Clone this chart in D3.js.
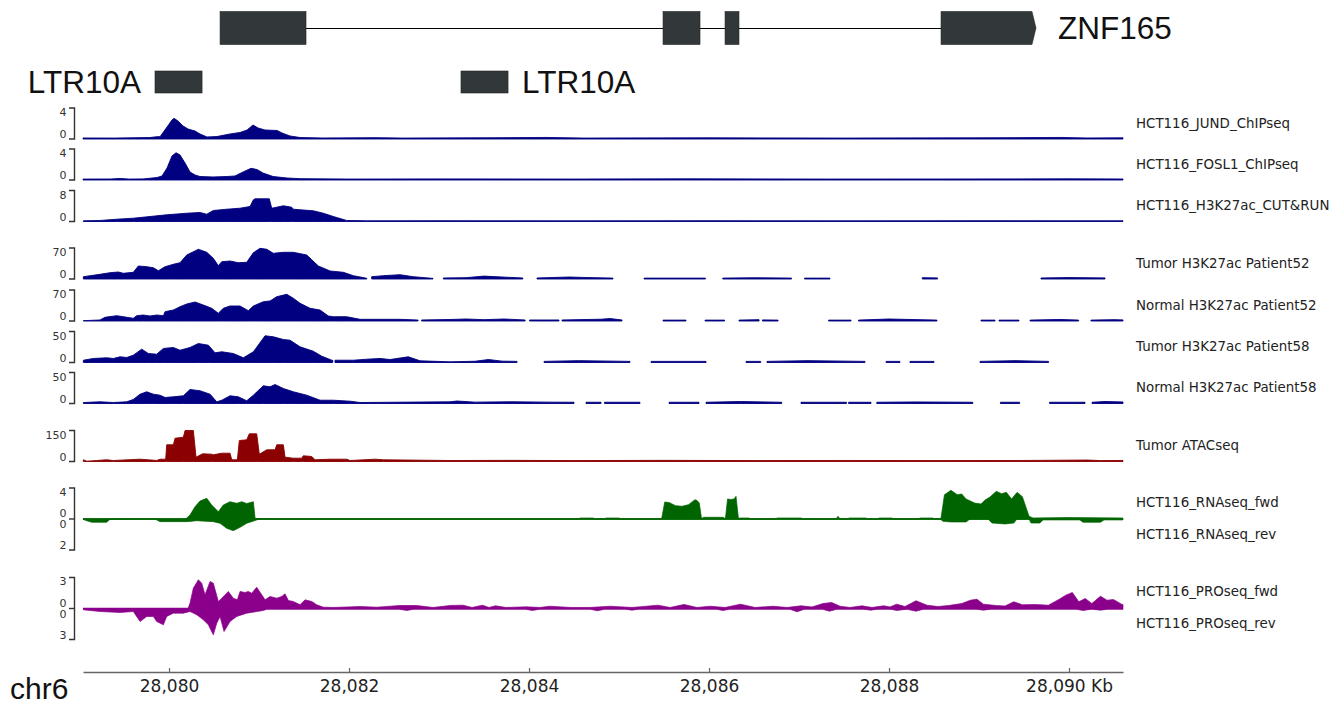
<!DOCTYPE html>
<html>
<head>
<meta charset="utf-8">
<script src="https://cdn.jsdelivr.net/npm/d3@7"></script>
<style>
  body { margin: 0; background: #fff; }
  svg { display: block; }
</style>
</head>
<body>
<svg id="chart" width="1342" height="704"></svg>
<script>
// ---- Region (kb on chr6) ----
const chromName = "chr6";
const regionStart = 28079.044;
const regionEnd = 28090.6;
const axisTicks = [28080, 28082, 28084, 28086, 28088, 28090];

// ---- Annotations ----
const geneName = "ZNF165";
const geneExons = [[28080.567, 28081.522], [28085.489, 28085.9], [28086.178, 28086.333], [28088.578, 28089.633]];
const repeatName = "LTR10A";
const repeatElements = [[28079.844, 28080.367], [28083.244, 28083.767]];

// ---- Signal tracks: [position kb, value]; null value = no data ----
const jundChip = [[28079.044,0.13],[28079.4,0.12],[28079.789,0.19],[28079.867,0.3],[28079.9,0.3],[28079.978,1.55],[28080.033,2.45],[28080.056,2.67],[28080.1,2.32],[28080.156,1.68],[28080.211,1.29],[28080.289,1.03],[28080.344,0.65],[28080.422,0.26],[28080.533,0.32],[28080.678,0.65],[28080.789,0.84],[28080.867,1.16],[28080.933,1.81],[28080.989,1.42],[28081.067,1.16],[28081.2,1.1],[28081.256,0.77],[28081.344,0.39],[28081.456,0.19],[28081.7,0.13],[28082.3,0.17],[28082.6,0.12],[28083.4,0.15],[28084.2,0.2],[28084.6,0.12],[28086,0.15],[28087.5,0.12],[28089,0.15],[28089.9,0.2],[28090.2,0.13],[28090.6,0.15]];

const fosl1Chip = [[28079.044,0.12],[28079.35,0.13],[28079.456,0.2],[28079.55,0.12],[28079.711,0.14],[28079.867,0.32],[28079.922,0.52],[28079.978,1.55],[28080.033,3.1],[28080.078,3.52],[28080.122,3.23],[28080.178,2.19],[28080.233,1.03],[28080.289,0.65],[28080.344,0.45],[28080.489,0.39],[28080.644,0.45],[28080.733,0.52],[28080.822,1.03],[28080.911,1.51],[28080.978,1.35],[28081.044,0.9],[28081.156,0.45],[28081.311,0.26],[28081.456,0.17],[28082,0.12],[28083,0.14],[28084.5,0.12],[28085.8,0.15],[28087.3,0.12],[28088.8,0.13],[28090,0.15],[28090.6,0.13]];

const cutRunH3K27ac = [[28079.048,0.18],[28079.233,0.26],[28079.419,0.59],[28079.603,0.85],[28079.789,1.29],[28079.974,1.73],[28080.122,1.99],[28080.197,2.14],[28080.344,2.32],[28080.419,1.88],[28080.492,2.84],[28080.641,3.17],[28080.789,3.43],[28080.9,3.87],[28080.937,5.6],[28080.956,5.86],[28081.114,5.86],[28081.141,3.43],[28081.233,3.87],[28081.27,4.05],[28081.363,3.69],[28081.381,3.17],[28081.603,2.76],[28081.714,2.14],[28081.826,1.29],[28081.974,0.26],[28082.197,0.18],[28083,0.2],[28084.5,0.17],[28086,0.2],[28087.5,0.17],[28089,0.2],[28090.6,0.18]];

const tumorP52 = [[28079.048,5.2],[28079.233,10.6],[28079.344,14.2],[28079.437,15.8],[28079.492,12.9],[28079.603,15.1],[28079.659,29.4],[28079.752,27.8],[28079.826,25.5],[28079.881,18.7],[28079.956,27.8],[28080.048,33.2],[28080.122,36.8],[28080.197,54.2],[28080.326,67.1],[28080.419,60.3],[28080.492,46.7],[28080.548,30],[28080.586,39.1],[28080.678,40.6],[28080.77,36.8],[28080.863,37.7],[28080.937,59.4],[28081.011,69.3],[28081.086,67.1],[28081.159,58],[28081.27,60.3],[28081.381,60.3],[28081.53,54.2],[28081.659,29.4],[28081.789,18.1],[28081.937,15.1],[28082.048,7.5],[28082.197,1.6],[28082.22,null],[28082.252,5.2],[28082.381,7.5],[28082.567,9.7],[28082.714,5.2],[28082.919,1.6],[28082.933,1.6],[28082.99,null],[28083.048,2.3],[28083.3,3],[28083.5,6.5],[28083.7,4.5],[28083.931,2.3],[28083.95,null],[28084.089,2.3],[28084.45,4.5],[28084.6,3.5],[28084.933,2],[28084.95,null],[28085.278,2],[28085.96,2],[28086,null],[28086.153,2],[28086.5,2.8],[28086.917,2],[28086.95,null],[28087.061,2],[28087.344,2],[28087.4,null],[28088.37,3],[28088.539,2.5],[28088.6,null],[28089.689,2.3],[28090,3.2],[28090.4,2.5]];

const normalP52 = [[28079.048,0.7],[28079.233,2.3],[28079.289,8.4],[28079.419,12],[28079.53,8.4],[28079.603,6.1],[28079.641,12],[28079.714,13.5],[28079.789,11.3],[28079.863,13.5],[28079.937,12],[28079.956,21],[28080.048,24.8],[28080.122,32.3],[28080.197,38.4],[28080.289,42.9],[28080.381,36.1],[28080.474,28.7],[28080.548,17.4],[28080.603,28.7],[28080.678,33.9],[28080.789,33.9],[28080.881,23.3],[28080.937,33.9],[28081.048,43.6],[28081.122,45.2],[28081.197,54.9],[28081.308,60.3],[28081.381,51.3],[28081.456,40],[28081.567,28.7],[28081.678,24.8],[28081.77,11.3],[28081.826,9.7],[28081.974,9.7],[28082.122,3.8],[28082.567,3.8],[28082.752,2.3],[28082.767,2.3],[28082.78,null],[28082.806,2.3],[28083.122,3.4],[28083.3,4.5],[28083.5,3],[28083.72,4.5],[28083.956,2.3],[28083.98,null],[28084.006,2.3],[28084.333,2.3],[28084.35,null],[28084.367,2.3],[28084.8,4],[28084.9,5.5],[28085.033,2.3],[28085.1,null],[28085.489,2],[28085.744,2],[28085.8,null],[28085.956,2],[28086.173,2],[28086.2,null],[28086.333,2],[28086.556,3],[28086.57,null],[28086.594,2.5],[28086.767,2],[28086.8,null],[28087.329,2],[28087.578,2],[28087.6,null],[28087.661,2],[28088,4.5],[28088.533,2],[28088.6,null],[28089.022,2],[28089.178,2],[28089.2,null],[28089.222,2],[28089.444,2],[28089.5,null],[28089.567,2],[28089.9,3.5],[28090.107,2],[28090.2,null],[28090.244,2],[28090.5,3],[28090.6,2.5]];

const tumorP58 = [[28079.048,3.7],[28079.159,6.5],[28079.308,7.6],[28079.381,6.5],[28079.456,9.2],[28079.53,8.1],[28079.603,11.8],[28079.697,21.5],[28079.77,14.5],[28079.863,13.4],[28079.937,22.6],[28080.048,24.2],[28080.122,19.8],[28080.233,24.2],[28080.326,30.6],[28080.437,27.9],[28080.511,15.6],[28080.586,17.3],[28080.714,14.5],[28080.826,7.6],[28080.937,17.3],[28081.067,43.1],[28081.159,41.5],[28081.27,37.1],[28081.344,36],[28081.456,25.3],[28081.603,18.2],[28081.697,10.2],[28081.808,3.7],[28081.819,3.7],[28081.83,null],[28081.844,3.7],[28082.048,3.7],[28082.197,5.3],[28082.344,6.5],[28082.456,4.8],[28082.659,9.2],[28082.789,2.7],[28083.122,1.1],[28083.4,2],[28083.55,4.8],[28083.7,2.2],[28083.867,1.8],[28083.9,null],[28084.167,1.8],[28084.55,3],[28085.122,1.8],[28085.2,null],[28085.356,1.8],[28085.967,1.8],[28086.2,null],[28086.411,1.8],[28086.574,1.8],[28086.6,null],[28086.644,1.8],[28087.1,3],[28087.733,1.8],[28087.8,null],[28087.967,1.8],[28088.122,1.8],[28088.15,null],[28088.233,1.8],[28088.5,1.8],[28088.6,null],[28089.011,1.8],[28089.4,3],[28089.773,1.8]];

const normalP58 = [[28079.048,1.6],[28079.233,2.7],[28079.381,1.6],[28079.53,2.7],[28079.603,6.5],[28079.678,15],[28079.752,18.9],[28079.826,15],[28079.9,13.4],[28079.956,9.7],[28080.048,10.8],[28080.159,12.4],[28080.233,22.6],[28080.344,20.5],[28080.456,15],[28080.53,2.7],[28080.586,5.3],[28080.678,12.4],[28080.77,10.8],[28080.863,4.4],[28080.937,13.4],[28081.048,28.6],[28081.122,26.9],[28081.178,30.6],[28081.27,24.2],[28081.381,18.9],[28081.53,13.4],[28081.678,5.3],[28081.826,5.3],[28082.011,3.7],[28082.122,1.6],[28083.122,2.7],[28083.2,4],[28083.4,2.2],[28083.8,2.8],[28084.2,2.2],[28084.5,2],[28084.55,null],[28084.633,2],[28084.8,2],[28084.82,null],[28084.839,2],[28085.233,2],[28085.3,null],[28085.556,2],[28085.889,2],[28085.93,null],[28085.967,2],[28086.35,3.2],[28086.808,2],[28086.9,null],[28087.022,2],[28087.527,2],[28087.54,null],[28087.551,2],[28087.8,2],[28087.83,null],[28087.864,2],[28088.3,2.5],[28088.931,2],[28089,null],[28089.238,2],[28089.451,2],[28089.5,null],[28089.784,2],[28090.178,2],[28090.22,null],[28090.256,2],[28090.4,3.2],[28090.6,2.5]];

const tumorAtac = [[28079.048,8.2],[28079.086,1.5],[28079.197,4.8],[28079.308,8.2],[28079.381,4.8],[28079.678,11.1],[28079.77,8.2],[28079.863,4.8],[28079.9,11.1],[28079.963,11.1],[28079.974,80.8],[28080.048,80.8],[28080.067,112.7],[28080.159,117.6],[28080.178,153],[28080.27,153],[28080.3,20.8],[28080.374,37.3],[28080.474,35.3],[28080.492,32.4],[28080.586,40.2],[28080.678,40.2],[28080.697,8.2],[28080.759,8.2],[28080.781,101.6],[28080.863,105],[28080.892,134],[28080.974,134],[28081.003,35.3],[28081.086,56.6],[28081.178,56.6],[28081.197,80.8],[28081.27,80.8],[28081.289,20.8],[28081.381,16],[28081.474,16],[28081.492,27.6],[28081.586,24.2],[28081.622,8.2],[28081.789,11.1],[28081.974,11.1],[28082.011,4.8],[28082.289,11.1],[28082.381,8.2],[28083.122,4.8],[28083.8,5.5],[28084.5,4.5],[28085.5,5.5],[28086.5,4.5],[28087.5,5],[28088.5,4.5],[28089.5,5],[28090.2,7],[28090.35,4.5],[28090.6,5]];

const rnaFwd = [[28079.044,0],[28080.18,0],[28080.197,0.13],[28080.233,0.52],[28080.289,1.59],[28080.344,2.32],[28080.419,2.67],[28080.474,1.81],[28080.548,0.94],[28080.603,1.81],[28080.678,2.23],[28080.752,2.03],[28080.808,2.23],[28080.863,2.0],[28080.937,2.23],[28080.956,0.09],[28080.989,0.04],[28081.1,0],[28084.55,0],[28084.567,0.13],[28084.711,0.13],[28084.73,0],[28084.84,0],[28084.856,0.13],[28085,0.13],[28085.02,0],[28085.473,0],[28085.508,2.19],[28085.556,2.13],[28085.628,1.72],[28085.7,1.64],[28085.772,1.85],[28085.844,2.49],[28085.867,2.39],[28085.892,2.06],[28085.917,0.06],[28085.941,0.22],[28086.156,0.22],[28086.182,0.04],[28086.206,2.58],[28086.244,2.52],[28086.278,2.58],[28086.3,2.93],[28086.327,0.06],[28086.344,0.13],[28086.444,0.13],[28086.46,0],[28086.74,0],[28086.756,0.13],[28087.022,0.13],[28087.04,0],[28087.411,0],[28087.433,0.35],[28087.456,0],[28087.54,0],[28087.556,0.13],[28087.744,0.13],[28087.76,0],[28087.875,0],[28087.889,0.13],[28088.033,0.13],[28088.05,0],[28088.33,0],[28088.344,0.13],[28088.489,0.13],[28088.5,0],[28088.56,0],[28088.577,0.06],[28088.616,3.13],[28088.688,3.7],[28088.76,3.13],[28088.808,3.23],[28088.856,2.58],[28088.952,2.06],[28089.022,1.94],[28089.072,2.49],[28089.122,2.84],[28089.193,3.57],[28089.251,3.26],[28089.304,3.44],[28089.362,2.58],[28089.424,3.44],[28089.482,2.88],[28089.556,0.35],[28089.6,0.13],[28090,0.19],[28090.6,0.13]];

const rnaRev = [[28079.044,0.02],[28079.078,0.1],[28079.141,0.21],[28079.233,0.21],[28079.308,0.21],[28079.344,0.02],[28079.844,0],[28079.9,0.17],[28080.197,0.17],[28080.308,0.11],[28080.492,0.17],[28080.567,0.28],[28080.641,0.6],[28080.714,0.75],[28080.789,0.54],[28080.863,0.28],[28080.974,0.06],[28081.011,0],[28088.567,0],[28088.6,0.15],[28088.688,0.19],[28088.856,0.19],[28088.9,0],[28089.1,0],[28089.144,0.26],[28089.289,0.32],[28089.387,0.26],[28089.422,0],[28089.556,0],[28089.578,0.26],[28089.676,0.26],[28089.711,0.06],[28090.12,0.06],[28090.156,0.21],[28090.35,0.21],[28090.389,0.06],[28090.6,0.06]];

const proFwd = [[28079.044,0],[28080.211,0],[28080.233,0.51],[28080.27,1.97],[28080.326,2.78],[28080.363,2.45],[28080.4,1.33],[28080.456,2.61],[28080.492,2.45],[28080.548,0.68],[28080.586,1.0],[28080.659,1.65],[28080.714,1.0],[28080.759,0.84],[28080.789,1.65],[28080.844,1.55],[28080.881,1.65],[28080.919,1.48],[28080.974,2.06],[28081.03,1.33],[28081.067,0.84],[28081.122,1.16],[28081.197,1.0],[28081.252,1.16],[28081.289,1.42],[28081.326,0.77],[28081.381,0.68],[28081.456,0.36],[28081.511,0.84],[28081.586,0.68],[28081.641,0.36],[28081.714,0.13],[28081.826,0.1],[28082.122,0.19],[28082.308,0.13],[28082.567,0.29],[28082.752,0.29],[28082.933,0.1],[28083.122,0.29],[28083.267,0.32],[28083.367,0.1],[28083.483,0.32],[28083.556,0.1],[28083.628,0.26],[28083.744,0.1],[28083.967,0.16],[28084.122,0.1],[28084.23,0.22],[28084.467,0.1],[28084.678,0.1],[28084.9,0.22],[28085.144,0.1],[28085.433,0.32],[28085.567,0.1],[28085.722,0.39],[28085.867,0.1],[28086.011,0.22],[28086.178,0.1],[28086.35,0.42],[28086.511,0.1],[28086.711,0.22],[28086.867,0.1],[28087.022,0.26],[28087.144,0.15],[28087.267,0.48],[28087.362,0.58],[28087.456,0.22],[28087.567,0.1],[28087.7,0.26],[28087.811,0.1],[28087.941,0.26],[28088.011,0.15],[28088.086,0.42],[28088.178,0.19],[28088.3,0.75],[28088.422,0.32],[28088.544,0.19],[28088.663,0.29],[28088.808,0.48],[28088.904,0.8],[28088.977,0.9],[28089.049,0.42],[28089.193,0.29],[28089.289,0.24],[28089.386,0.65],[28089.482,0.36],[28089.627,0.39],[28089.771,0.32],[28089.892,0.9],[28089.964,1.29],[28090.037,1.55],[28090.109,0.65],[28090.181,0.97],[28090.253,0.48],[28090.35,1.19],[28090.422,0.8],[28090.494,0.87],[28090.589,0.39],[28090.6,0.39]];

const proRev = [[28079.048,0.13],[28079.233,0.29],[28079.456,0.39],[28079.603,0.29],[28079.678,1.26],[28079.752,0.77],[28079.826,0.77],[28079.863,1.26],[28079.937,1.58],[28079.974,0.77],[28080.048,0.45],[28080.159,0.45],[28080.233,0.29],[28080.308,0.61],[28080.381,1.09],[28080.437,1.58],[28080.492,2.55],[28080.53,1.42],[28080.567,0.77],[28080.611,2.23],[28080.678,1.26],[28080.752,0.77],[28080.863,0.45],[28081.048,0.19],[28081.086,0.07],[28082.56,0.07],[28082.641,0.19],[28082.72,0.07],[28083.96,0.07],[28084.038,0.19],[28084.12,0.07],[28084.68,0.07],[28084.76,0.22],[28084.84,0.07],[28085.07,0.07],[28085.144,0.16],[28085.22,0.07],[28086.08,0.07],[28086.156,0.19],[28086.23,0.07],[28086.9,0.07],[28086.978,0.32],[28087.06,0.07],[28087.26,0.07],[28087.338,0.26],[28087.42,0.07],[28087.72,0.07],[28087.796,0.16],[28087.87,0.07],[28088.02,0.07],[28088.086,0.19],[28088.2,0.07],[28088.3,0.26],[28088.38,0.07],[28088.97,0.07],[28089.049,0.16],[28089.13,0.07],[28090.08,0.07],[28090.156,0.19],[28090.25,0.07],[28090.35,0.16],[28090.43,0.07],[28090.6,0.07]];

// ---- Track metadata ----
const singleTrackNames = ["HCT116_JUND_ChIPseq", "HCT116_FOSL1_ChIPseq", "HCT116_H3K27ac_CUT&RUN",
  "Tumor H3K27ac Patient52", "Normal H3K27ac Patient52", "Tumor H3K27ac Patient58", "Normal H3K27ac Patient58",
  "Tumor ATACseq"];
const singleTrackData = [jundChip, fosl1Chip, cutRunH3K27ac, tumorP52, normalP52, tumorP58, normalP58, tumorAtac];
const singleTrackMax = [4, 4, 8, 70, 70, 50, 50, 150];
const singleTrackColors = ["#000080", "#000080", "#000080", "#000080", "#000080", "#000080", "#000080", "#8b0000"];

const strandedTrackNames = [["HCT116_RNAseq_fwd", "HCT116_RNAseq_rev"], ["HCT116_PROseq_fwd", "HCT116_PROseq_rev"]];
const strandedTrackData = [[rnaFwd, rnaRev], [proFwd, proRev]];
const strandedTrackMax = [[4, 2], [3, 3]];
const strandedTrackColors = ["#006400", "#8b008b"];

// ---- Drawing ----
const svg = d3.select("#chart");
const plotLeft = 83, plotRight = 1123;
const x = d3.scaleLinear().domain([regionStart, regionEnd]).range([plotLeft, plotRight]);
const trackH = 31;
const singleTops = [108, 149, 190.5, 248, 290, 331.5, 372.5, 430.5];
const strandedZeros = [519, 608.5];
const labelX = 1136;
const sansFont = "'DejaVu Sans', Verdana, sans-serif";
const bigFont = "'Liberation Sans', Arial, sans-serif";
const featureFill = "#323739";

// gene model
const gene = svg.append("g");
const geneY = 28, exonH = 33;
gene.append("line")
  .attr("x1", x(geneExons[0][0])).attr("x2", x(geneExons[geneExons.length - 1][1]))
  .attr("y1", geneY + 0.5).attr("y2", geneY + 0.5)
  .attr("stroke", "#000").attr("stroke-width", 1);
geneExons.forEach((e, i) => {
  const x0 = x(e[0]), x1 = x(e[1]);
  const t = geneY - exonH / 2, b = geneY + exonH / 2;
  if (i === geneExons.length - 1) {
    // last exon carries the strand arrowhead
    gene.append("path")
      .attr("d", `M${x0},${t}H${x1 - 4}L${x1},${geneY}L${x1 - 4},${b}H${x0}Z`)
      .attr("fill", featureFill).attr("stroke", "#22272a").attr("stroke-width", 0.6);
  } else {
    gene.append("rect")
      .attr("x", x0).attr("y", t).attr("width", x1 - x0).attr("height", exonH)
      .attr("fill", featureFill).attr("stroke", "#22272a").attr("stroke-width", 0.6);
  }
});
gene.append("text")
  .attr("x", x(geneExons[geneExons.length - 1][1]) + 22).attr("y", geneY + 11)
  .attr("font-family", bigFont).attr("font-size", 31.5).attr("fill", "#111")
  .text(geneName);

// repeat elements
const rep = svg.append("g");
repeatElements.forEach((r, i) => {
  const x0 = x(r[0]), x1 = x(r[1]);
  rep.append("rect")
    .attr("x", x0).attr("y", 71).attr("width", x1 - x0).attr("height", 22)
    .attr("fill", featureFill).attr("stroke", "#22272a").attr("stroke-width", 0.6);
  rep.append("text")
    .attr("x", i === 0 ? x0 - 14 : x1 + 14).attr("y", 93)
    .attr("text-anchor", i === 0 ? "end" : "start")
    .attr("font-family", bigFont).attr("font-size", 31.5).attr("fill", "#111")
    .text(repeatName);
});

// data-range bracket with labels
function drawBracket(top, bottom, marks) {
  const g = svg.append("g").attr("stroke", "#333").attr("stroke-width", 1.4).attr("fill", "none");
  g.append("path").attr("d", `M69,${top}H74.5V${bottom}H69`);
  marks.forEach(m => {
    if (m.tick) g.append("path").attr("d", `M69,${m.tick}H74.5`);
    svg.append("text")
      .attr("x", 66.5).attr("y", m.y).attr("dy", "0.36em")
      .attr("text-anchor", "end").attr("font-family", sansFont).attr("font-size", 11)
      .attr("fill", "#333").text(m.text);
  });
}

function trackLabel(y, text) {
  svg.append("text")
    .attr("x", labelX).attr("y", y).attr("dy", "0.36em")
    .attr("font-family", sansFont).attr("font-size", 13.4).attr("fill", "#222")
    .text(text);
}

// single-strand coverage tracks
singleTrackNames.forEach((name, i) => {
  const top = singleTops[i], base = top + trackH;
  const y = d3.scaleLinear().domain([0, singleTrackMax[i]]).range([base, top]).clamp(true);
  const area = d3.area()
    .defined(d => d[1] != null)
    .x(d => x(d[0])).y0(base).y1(d => y(d[1]));
  svg.append("path")
    .datum(singleTrackData[i])
    .attr("d", area)
    .attr("fill", singleTrackColors[i])
    .attr("stroke", singleTrackColors[i]).attr("stroke-width", 0.9).attr("stroke-linejoin", "round");
  drawBracket(top, base, [
    { y: top + 4.5, text: String(singleTrackMax[i]) },
    { y: base - 4.5, text: "0" }
  ]);
  trackLabel(top + 15, name);
});

// stranded tracks: forward above, reverse below a shared zero line
strandedTrackNames.forEach((names, i) => {
  const zero = strandedZeros[i];
  const color = strandedTrackColors[i];
  const [fwdMax, revMax] = strandedTrackMax[i];
  const yF = d3.scaleLinear().domain([0, fwdMax]).range([zero, zero - trackH]).clamp(true);
  const yR = d3.scaleLinear().domain([0, revMax]).range([zero, zero + trackH]).clamp(true);
  const fwdArea = d3.area().x(d => x(d[0])).y0(zero).y1(d => yF(d[1]));
  const revArea = d3.area().x(d => x(d[0])).y0(zero).y1(d => yR(d[1]));
  svg.append("path").datum(strandedTrackData[i][0]).attr("d", fwdArea)
    .attr("fill", color).attr("stroke", color).attr("stroke-width", 0.7).attr("stroke-linejoin", "round");
  svg.append("path").datum(strandedTrackData[i][1]).attr("d", revArea)
    .attr("fill", color).attr("stroke", color).attr("stroke-width", 0.7).attr("stroke-linejoin", "round");
  svg.append("line")
    .attr("x1", plotLeft).attr("x2", plotRight).attr("y1", zero).attr("y2", zero)
    .attr("stroke", color).attr("stroke-width", 1.6);
  drawBracket(zero - trackH, zero + trackH, [
    { y: zero - trackH + 4, text: String(fwdMax) },
    { y: zero - 5.6, text: "0", tick: zero },
    { y: zero + 5.2, text: "0" },
    { y: zero + trackH - 4.5, text: String(revMax) }
  ]);
  trackLabel(zero - 17, names[0]);
  trackLabel(zero + 15, names[1]);
});

// genomic axis
const axisY = 672;
const fmt = d3.format(",");
const axis = d3.axisBottom(x)
  .tickValues(axisTicks)
  .tickSizeInner(-4).tickSizeOuter(0).tickPadding(8)
  .tickFormat(d => fmt(d) + (d === axisTicks[axisTicks.length - 1] ? " Kb" : ""));
const ag = svg.append("g").attr("transform", `translate(0,${axisY})`).call(axis);
ag.select(".domain").attr("stroke", "#666").attr("stroke-width", 1.5);
ag.selectAll(".tick line").attr("stroke", "#666").attr("stroke-width", 1.2);
ag.selectAll(".tick text").attr("font-family", sansFont).attr("font-size", 17).attr("fill", "#222");

svg.append("text")
  .attr("x", 10).attr("y", 699)
  .attr("font-family", bigFont).attr("font-size", 30).attr("fill", "#111")
  .text(chromName);
</script>
</body>
</html>
